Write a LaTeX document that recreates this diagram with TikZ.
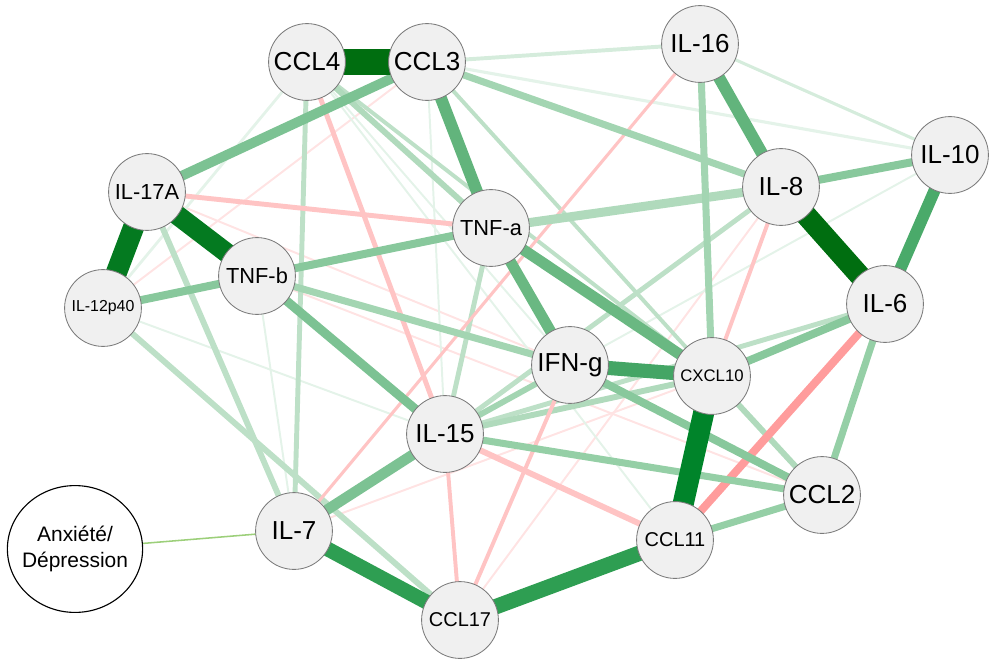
\documentclass[tikz,border=0pt]{standalone}
\usepackage{fontspec}
\setmainfont{Liberation Sans}
\usetikzlibrary{backgrounds,shapes.geometric}

\definecolor{nodegray}{HTML}{F0F0F0}
\definecolor{ringgray}{HTML}{7A7A7A}
\definecolor{gA}{HTML}{006E10}
\definecolor{gB}{HTML}{047A20}
\definecolor{gC}{HTML}{00842A}
\definecolor{gD}{HTML}{2E9E52}
\definecolor{gE}{HTML}{44A565}
\definecolor{gF}{HTML}{4AAA6A}
\definecolor{gG}{HTML}{62B47C}
\definecolor{gH}{HTML}{6AB882}
\definecolor{gI}{HTML}{7CC293}
\definecolor{gJ}{HTML}{88C89C}
\definecolor{gK}{HTML}{95CFA6}
\definecolor{gL}{HTML}{A3D5B2}
\definecolor{gM}{HTML}{B0DABC}
\definecolor{gN}{HTML}{BDE0C7}
\definecolor{gO}{HTML}{D5ECDC}
\definecolor{gP}{HTML}{E4F3E9}
\definecolor{rA}{HTML}{FF9C9C}
\definecolor{rB}{HTML}{FFC4C4}
\definecolor{rC}{HTML}{FFE3E3}
\definecolor{limegreen}{HTML}{9CCF7A}

\begin{document}
\begin{tikzpicture}[x=0.025cm, y=-0.025cm,
    cyto/.style={circle, draw=ringgray, fill=nodegray, line width=0.6pt, minimum size=1.92cm, inner sep=0pt},
    big/.style={font=\fontsize{18.5}{20}\selectfont},
    mid/.style={font=\fontsize{15.5}{17}\selectfont},
    small/.style={font=\fontsize{14.2}{16}\selectfont}]
  \useasboundingbox (0,0) rectangle (999,664);
  % Cytokine nodes
  \node[cyto, big] (ccl4) at (307,62) {CCL4};
  \node[cyto, big] (ccl3) at (427,62) {CCL3};
  \node[cyto, big] (il16) at (700,44) {IL-16};
  \node[cyto, big] (il10) at (950,155) {IL-10};
  \node[cyto, big] (il8) at (781,187) {IL-8};
  \node[cyto, mid] (il17a) at (147,192) {IL-17A};
  \node[cyto, mid] (tnfa) at (491,228) {TNF-a};
  \node[cyto, mid] (tnfb) at (257,276) {TNF-b};
  \node[cyto, font=\fontsize{11.3}{13}\selectfont] (il12p40) at (103,308) {IL-12p40};
  \node[cyto, big] (il6) at (885,304) {IL-6};
  \node[cyto, big] (ifng) at (570,365) {IFN-g};
  \node[cyto, font=\fontsize{11.9}{13}\selectfont] (cxcl10) at (712,376) {CXCL10};
  \node[cyto, big] (il15) at (445,434) {IL-15};
  \node[cyto, big] (ccl2) at (822,495) {CCL2};
  \node[cyto, big] (il7) at (294,531) {IL-7};
  \node[cyto, small] (ccl11) at (675,540) {CCL11};
  \node[cyto, small] (ccl17) at (460,620) {CCL17};
  % Outcome node
  \node[ellipse, draw=black, fill=white, line width=0.8pt, minimum width=3.38cm, minimum height=3.17cm,
        inner xsep=-0.14cm, inner ysep=0pt,
        align=center, font=\fontsize{14.9}{18.5}\selectfont] (anx) at (75,549) {Anxiété/\\Dépression};

  \begin{scope}[on background layer]
    % Faint negative edges
    \draw[rC, line width=1.4pt] (ccl3.center)--(il12p40.center);
    \draw[rC, line width=1.4pt] (il7.center)--(cxcl10.center);
    \draw[rC, line width=1.4pt] (ccl17.center)--(il8.center);
    \draw[rC, line width=1.4pt] (il17a.center)--(ifng.center);
    \draw[rC, line width=1.4pt] (tnfb.center)--(ccl2.center);
    % Faint positive edges
    \draw[gP, line width=1.4pt] (ccl3.center)--(il15.center);
    \draw[gP, line width=2pt] (ccl4.center)--(il12p40.center);
    \draw[gP, line width=1.4pt] (il12p40.center)--(il15.center);
    \draw[gP, line width=1.4pt] (ifng.center)--(il10.center);
    \draw[gP, line width=1.4pt] (ccl4.center)--(ccl11.center);
    \draw[gP, line width=1.4pt] (tnfb.center)--(il7.center);
    \draw[gP, line width=1.4pt] (ccl4.center)--(ifng.center);
    % Weak positive edges
    \draw[gO, line width=2.8pt] (ccl3.center)--(il16.center);
    \draw[gP, line width=2.2pt] (ccl3.center)--(il10.center);
    \draw[gO, line width=2.2pt] (il16.center)--(il10.center);
    \draw[gN, line width=2.8pt] (ccl3.center)--(cxcl10.center);
    \draw[gN, line width=2.8pt] (ccl4.center)--(cxcl10.center);
    \draw[gN, line width=3.5pt] (il15.center)--(il8.center);
    \draw[gN, line width=3.5pt] (il15.center)--(il6.center);
    \draw[gN, line width=4.2pt] (il12p40.center)--(ccl17.center);
    \draw[gN, line width=4.2pt] (il17a.center)--(il7.center);
    \draw[gN, line width=3.5pt] (ccl4.center)--(il7.center);
    \draw[gN, line width=3.5pt] (tnfa.center)--(il15.center);
    \draw[gM, line width=4.2pt] (ccl4.center)--(tnfa.center);
    \draw[gM, line width=4.2pt] (il15.center)--(cxcl10.center);
    \draw[gM, line width=4.2pt] (cxcl10.center)--(ccl2.center);
    \draw[gL, line width=4.2pt] (il15.center)--(ifng.center);
    % Negative edges
    \draw[rB, line width=2.8pt] (il15.center)--(ccl17.center);
    \draw[rB, line width=2.8pt] (ccl17.center)--(ifng.center);
    \draw[rB, line width=2.2pt] (il16.center)--(il7.center);
    \draw[rB, line width=2.8pt] (il8.center)--(cxcl10.center);
    \draw[rB, line width=3.5pt] (il17a.center)--(tnfa.center);
    \draw[rB, line width=3.5pt] (ccl4.center)--(il15.center);
    \draw[rB, line width=4.2pt] (il15.center)--(ccl11.center);
    \draw[rA, line width=5.7pt] (il6.center)--(ccl11.center);
    % Medium positive edges
    \draw[gM, line width=6.4pt] (il8.center)--(tnfa.center);
    \draw[gL, line width=5pt] (il16.center)--(cxcl10.center);
    \draw[gL, line width=5pt] (tnfb.center)--(ifng.center);
    \draw[gL, line width=5pt] (ccl3.center)--(il8.center);
    \draw[gK, line width=5pt] (il15.center)--(ccl2.center);
    \draw[gK, line width=5pt] (ccl11.center)--(ccl2.center);
    \draw[gK, line width=5pt] (il6.center)--(ccl2.center);
    \draw[gJ, line width=5.7pt] (ifng.center)--(ccl2.center);
    \draw[gJ, line width=5.7pt] (cxcl10.center)--(il6.center);
    \draw[gJ, line width=5.7pt] (tnfb.center)--(tnfa.center);
    \draw[gJ, line width=5.7pt] (tnfb.center)--(il12p40.center);
    \draw[gJ, line width=5.7pt] (il8.center)--(il10.center);
    \draw[gI, line width=6.4pt] (tnfb.center)--(il15.center);
    \draw[gI, line width=7.5pt] (il7.center)--(il15.center);
    \draw[gI, line width=7pt] (il17a.center)--(ccl3.center);
    % Strong positive edges
    \draw[gH, line width=7.8pt] (tnfa.center)--(ifng.center);
    \draw[gH, line width=7.8pt] (tnfa.center)--(cxcl10.center);
    \draw[gG, line width=8.5pt] (ccl3.center)--(tnfa.center);
    \draw[gG, line width=8.5pt] (il16.center)--(il8.center);
    \draw[gF, line width=8.5pt] (il10.center)--(il6.center);
    \draw[gE, line width=10pt] (ifng.center)--(cxcl10.center);
    \draw[gD, line width=10.5pt] (il7.center)--(ccl17.center);
    \draw[gD, line width=11pt] (ccl17.center)--(ccl11.center);
    \draw[gC, line width=15pt] (cxcl10.center)--(ccl11.center);
    \draw[gA, line width=15pt] (il8.center)--(il6.center);
    \draw[gB, line width=14pt] (il17a.center)--(tnfb.center);
    \draw[gB, line width=15pt] (il17a.center)--(il12p40.center);
    \draw[gA, line width=19pt] (ccl4.center)--(ccl3.center);
    % Link to the outcome
    \draw[limegreen, line width=1.1pt] (anx.center)--(il7.center);
  \end{scope}
\end{tikzpicture}
\end{document}
